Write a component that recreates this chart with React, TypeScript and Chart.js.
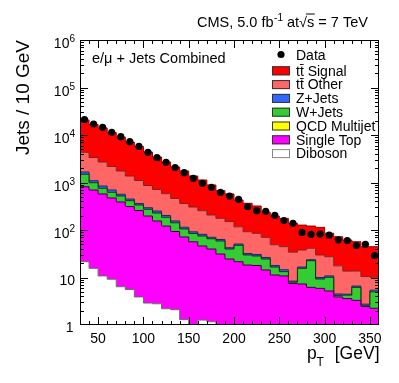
import React, { useEffect, useRef } from "react";
import { Chart, registerables } from "chart.js";

Chart.register(...registerables);

const FONT = '"Liberation Sans", Arial, Helvetica, sans-serif';

// ---- Data (10 GeV bins, low edges) ----
const binLowEdges = [30, 40, 50, 60, 70, 80, 90, 100, 110, 120, 130, 140, 150, 160, 170, 180, 190, 200, 210, 220, 230, 240, 250, 260, 270, 280, 290, 300, 310, 320, 330, 340, 350];
const BIN_WIDTH = 10;
const X_MIN = 30;
const X_MAX = 360;
const xTickLabels = [50, 100, 150, 200, 250, 300, 350];
const yDecadeExponents = [0, 1, 2, 3, 4, 5, 6];

const dataCounts = [21200, 17040, 14530, 11400, 9210, 7225, 5780, 4323, 3328, 2663, 2069, 1608, 1226, 962, 792, 622, 520, 443, 309, 255, 248, 204, 158, 138, 89, 81, 82, 78, 62, 60, 47, 50, 29];

const ttSignal = [16370, 13280, 11340, 9120, 7330, 5750, 4625, 3520, 2730, 2120, 1660, 1386, 1065, 874, 679, 496, 423, 311, 273, 235, 166, 148, 131, 104, 89, 80, 84, 58, 54.5, 48, 43, 34, 34.4];
const ttOther = [2660, 2270, 1857, 1477, 1183, 921, 741, 570, 461, 379, 306, 247, 213, 174, 137, 113, 108, 66, 60, 54.5, 43.6, 31, 30, 25.7, 21.3, 17.5, 19.8, 16.6, 13.1, 9.2, 7.1, 7.7, 4.7];
const zJets = [176, 101, 89, 73, 44, 35, 25, 22, 23, 17, 13, 9, 7, 6.2, 4.6, 4.4, 2.6, 3.1, 2.2, 2.1, 1.9, 1.3, 1.3, 0.4, 1.0, 1.1, 0.7, 0.7, 0.3, 0.2, 0.4, 0.15, 0.4];
const wJets = [672, 295, 182, 150, 131, 102, 79, 76, 73, 64, 49, 34, 28, 28.7, 25.8, 27.5, 15.3, 26.1, 11.5, 10.5, 10.1, 5.3, 2.5, 0.5, 8.3, 16.4, 3.4, 4.9, 0.3, 0.65, 2.9, 0.15, 2.75];
const qcdMultijet = [0, 0, 0, 0, 0, 0, 0, 0, 0, 0, 0, 0, 0, 0, 0, 0, 0, 0, 0, 0, 0, 0, 0, 0, 0, 0, 0, 0, 0, 0, 0, 0, 0];
const singleTop = [794, 679, 562, 463, 383, 306, 253, 194, 152, 119, 91, 70, 56, 44.8, 38.6, 30.7, 24.1, 21.0, 18.0, 17.5, 14.1, 11.0, 10.6, 7.2, 7.1, 6.0, 5.8, 5.0, 3.8, 3.5, 3.2, 2.35, 2.15];
const diboson = [21.5, 15.6, 10.8, 9.2, 6.4, 5.6, 3.9, 2.9, 2.8, 2.2, 2.1, 1.3, 0.6, 1.27, 1.17, 0.5, 0.4, 0.5, 0.3, 0.4, 0.3, 0.3, 0.2, 0.3, 0.2, 0.2, 0.1, 0.2, 0.1, 0.1, 0.1, 0.1, 0.1];

// stacking order: bottom -> top
const layers = [
  { label: "Diboson", values: diboson, color: "#ffffff", line: "#666666" },
  { label: "Single Top", values: singleTop, color: "#ff00ff", line: "#3a003a" },
  { label: "QCD Multijet", values: qcdMultijet, color: "#ffff00", line: "rgba(0,0,0,0)" },
  { label: "W+Jets", values: wJets, color: "#33cc33", line: "#0d330d" },
  { label: "Z+Jets", values: zJets, color: "#3366ff", line: "#1a2a66" },
  { label: "tt\u0304 Other", values: ttOther, color: "#ff6666", line: "#802020" },
  { label: "tt\u0304 Signal", values: ttSignal, color: "#ff0000", line: "#990000" },
];

// legend order (top -> bottom)
const legendEntries = [
  { label: "tt\u0304 Signal", color: "#ff0000" },
  { label: "tt\u0304 Other", color: "#ff6666" },
  { label: "Z+Jets", color: "#3366ff" },
  { label: "W+Jets", color: "#33cc33" },
  { label: "QCD Multijet", color: "#ffff00" },
  { label: "Single Top", color: "#ff00ff" },
  { label: "Diboson", color: "#ffffff" },
];

function buildDatasets() {
  const cum = binLowEdges.map(() => 0);
  const last = binLowEdges.length - 1;
  const stack = layers.map((layer, k) => {
    const tops = layer.values.map((v, i) => (cum[i] += v));
    const pts = tops.map((t, i) => ({ x: binLowEdges[i], y: t }));
    pts.push({ x: binLowEdges[last] + BIN_WIDTH, y: tops[last] });
    return {
      type: "line" as const,
      label: layer.label,
      data: pts,
      stepped: "before" as const,
      fill: k === 0 ? "start" : "-1",
      backgroundColor: layer.color,
      borderColor: layer.line,
      borderWidth: k === 2 ? 0 : 1,
      pointRadius: 0,
      tension: 0,
    };
  });
  const dataPts = dataCounts.map((c, i) => ({ x: binLowEdges[i] + BIN_WIDTH / 2, y: c }));
  const dataSet = {
    type: "line" as const,
    label: "Data",
    data: dataPts,
    showLine: false,
    fill: false,
    pointRadius: 3.6,
    pointBackgroundColor: "#000",
    pointBorderColor: "#000",
    pointBorderWidth: 0,
    borderColor: "#000",
    backgroundColor: "#000",
  };
  return [dataSet, ...stack];
}

const decorPlugin = {
  id: "decor",
  afterDraw(chart: any) {
    const { ctx, chartArea: a, scales } = chart;
    const xs = scales.x;
    const ys = scales.y;
    ctx.save();
    ctx.strokeStyle = "#000";
    ctx.fillStyle = "#000";
    ctx.lineWidth = 1;

    // frame
    ctx.strokeRect(a.left + 0.5, a.top + 0.5, a.right - a.left - 1, a.bottom - a.top - 1);

    // x ticks (inside, bottom and top)
    ctx.beginPath();
    for (let v = X_MIN + 10; v < X_MAX; v += 10) {
      const px = Math.round(xs.getPixelForValue(v)) + 0.5;
      const len = v % 50 === 0 ? 8 : 4;
      ctx.moveTo(px, a.bottom);
      ctx.lineTo(px, a.bottom - len);
      ctx.moveTo(px, a.top);
      ctx.lineTo(px, a.top + len);
    }
    // y ticks (inside, left and right)
    for (let e = 0; e < 6; e++) {
      for (let m = 1; m <= 9; m++) {
        const v = m * Math.pow(10, e);
        if (e === 0 && m === 1) continue;
        const py = Math.round(ys.getPixelForValue(v)) + 0.5;
        const len = m === 1 ? 8 : 4;
        ctx.moveTo(a.left, py);
        ctx.lineTo(a.left + len, py);
        ctx.moveTo(a.right, py);
        ctx.lineTo(a.right - len, py);
      }
    }
    ctx.stroke();

    // y tick labels (ROOT style 10^n)
    ctx.textAlign = "right";
    ctx.textBaseline = "alphabetic";
    const labelRight = 75;
    yDecadeExponents.forEach((e) => {
      const py = ys.getPixelForValue(Math.pow(10, e));
      if (e === 0) {
        ctx.font = `14px ${FONT}`;
        ctx.fillText("1", labelRight - 1.5, py + 7);
      } else if (e === 1) {
        ctx.font = `14px ${FONT}`;
        ctx.fillText("10", labelRight, py + 7.5);
      } else {
        ctx.font = `10px ${FONT}`;
        const ew = ctx.measureText(String(e)).width;
        ctx.fillText(String(e), labelRight, py + 2);
        ctx.font = `14px ${FONT}`;
        ctx.fillText("10", labelRight - ew, py + 8);
      }
    });

    // x axis title: p_T [GeV]
    ctx.textAlign = "right";
    ctx.font = `17.5px ${FONT}`;
    ctx.fillText("[GeV]", 379.5, 359);
    ctx.textAlign = "left";
    ctx.fillText("p", 307, 359);
    ctx.font = `12px ${FONT}`;
    ctx.fillText("T", 316.5, 366);

    // top title: CMS, 5.0 fb-1 at sqrt(s) = 7 TeV
    ctx.textAlign = "left";
    let tx = 197;
    const tb = 26.5;
    ctx.font = `14.5px ${FONT}`;
    ctx.fillText("CMS, 5.0 fb", tx, tb);
    tx += ctx.measureText("CMS, 5.0 fb").width + 0.5;
    ctx.font = `10px ${FONT}`;
    ctx.fillText("-1", tx, tb - 6);
    tx += ctx.measureText("-1").width;
    ctx.font = `14.5px ${FONT}`;
    ctx.fillText(" at", tx, tb);
    tx += ctx.measureText(" at").width;
    ctx.fillText("\u221A", tx, tb);
    tx += ctx.measureText("\u221A").width;
    const sw = ctx.measureText("s").width;
    ctx.fillText("s", tx, tb);
    ctx.beginPath();
    ctx.moveTo(tx - 1, tb - 12.5);
    ctx.lineTo(tx + sw + 0.5, tb - 12.5);
    ctx.stroke();
    tx += sw;
    ctx.fillText(" = 7 TeV", tx, tb);

    // channel label
    ctx.font = `14.5px ${FONT}`;
    ctx.fillText("e/\u03BC + Jets Combined", 92, 63);

    // legend
    ctx.textBaseline = "middle";
    ctx.font = `14px ${FONT}`;
    const textX = 296;
    // Data entry
    ctx.beginPath();
    ctx.arc(281, 54.5, 3.6, 0, Math.PI * 2);
    ctx.fill();
    ctx.fillText("Data", textX, 56);
    legendEntries.forEach((entry, i) => {
      const cy = 70.8 + 13.8 * i;
      ctx.fillStyle = entry.color;
      ctx.fillRect(272, cy - 4.5, 18, 9);
      ctx.strokeStyle = entry.color === "#ffffff" ? "#888" : "#333";
      ctx.strokeRect(272.5, cy - 4.5 + 0.5, 17, 8);
      ctx.fillStyle = "#000";
      ctx.fillText(entry.label, textX, cy + 1);
    });

    ctx.restore();
  },
};

export default function App() {
  const canvasRef = useRef<HTMLCanvasElement | null>(null);

  useEffect(() => {
    if (!canvasRef.current) return;
    Chart.defaults.font.family = FONT;
    const chart = new Chart(canvasRef.current, {
      type: "line",
      data: { datasets: buildDatasets() as any },
      options: {
        animation: false,
        responsive: true,
        maintainAspectRatio: false,
        layout: { padding: { top: 40, right: 20, left: 0, bottom: 0 } },
        plugins: { legend: { display: false }, tooltip: { enabled: false } },
        elements: { line: { tension: 0 } },
        scales: {
          x: {
            type: "linear",
            min: X_MIN,
            max: X_MAX,
            grid: { display: false, drawTicks: false },
            border: { display: false },
            ticks: {
              color: "#000",
              font: { family: FONT, size: 14 },
              padding: 6,
              maxRotation: 0,
              autoSkip: false,
            },
            afterBuildTicks: (s: any) => {
              s.ticks = xTickLabels.map((v) => ({ value: v }));
            },
            afterFit: (s: any) => {
              s.height = 58;
            },
          },
          y: {
            type: "logarithmic",
            min: 1,
            max: 1000000,
            grid: { display: false, drawTicks: false },
            border: { display: false },
            ticks: { display: false },
            title: {
              display: true,
              text: "Jets / 10 GeV",
              align: "end",
              color: "#000",
              font: { family: FONT, size: 19 },
              padding: { top: 12, bottom: 0 },
            },
            afterFit: (s: any) => {
              s.width = 80;
            },
          },
        },
      } as any,
      plugins: [decorPlugin],
    });
    return () => chart.destroy();
  }, []);

  return (
    <div style={{ position: "fixed", left: 0, top: 0, width: 399, height: 383, background: "#fff" }}>
      <canvas ref={canvasRef} />
    </div>
  );
}
